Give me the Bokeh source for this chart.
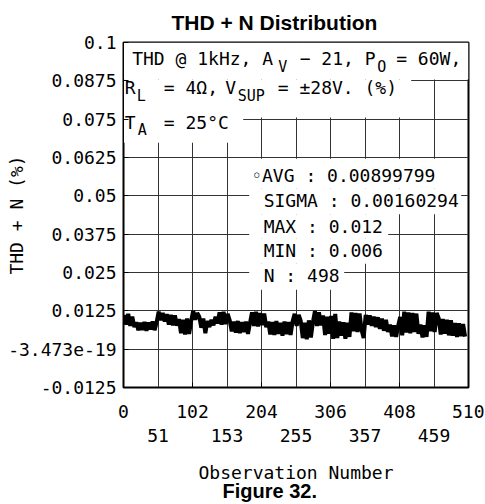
import math
from bokeh.plotting import figure
from bokeh.models import Range1d, FixedTicker, LinearAxis, Label, BoxAnnotation, Title
from bokeh.embed import file_html
from bokeh.resources import INLINE

# ---------------- data ----------------
x_grid_ticks = [0, 51, 102, 153, 204, 255, 306, 357, 408, 459, 510]
x_row1_ticks = [0, 102, 204, 306, 408, 510]
x_row2_ticks = [51, 153, 255, 357, 459]
y_ticks = [-0.0125, 0.0, 0.0125, 0.025, 0.0375, 0.05, 0.0625, 0.075, 0.0875, 0.1]
y_tick_labels = ["-0.0125", "-3.473e-19", "0.0125", "0.025", "0.0375",
                 "0.05", "0.0625", "0.075", "0.0875", "0.1"]

# THD+N (%), one value every 3rd observation
thd = [
    0.0112, 0.0080, 0.0115, 0.0076, 0.0106, 0.0072,
    0.0088, 0.0062, 0.0086, 0.0063, 0.0089, 0.0060, 0.0087, 0.0064, 0.0090, 0.0062, 0.0088,
    0.0122, 0.0094, 0.0118, 0.0090,
    0.0114, 0.0080, 0.0112, 0.0078, 0.0110, 0.0077,
    0.0098, 0.0052, 0.0096, 0.0048, 0.0100, 0.0050, 0.0092,
    0.0125, 0.0096, 0.0118,
    0.0106, 0.0070, 0.0100, 0.0052, 0.0092,
    0.0072, 0.0096, 0.0078, 0.0106, 0.0084,
    0.0120, 0.0080, 0.0122, 0.0082, 0.0115,
    0.0094, 0.0058, 0.0090, 0.0054, 0.0092, 0.0052, 0.0088,
    0.0056, 0.0090, 0.0050, 0.0086,
    0.0120, 0.0076, 0.0122, 0.0074, 0.0118, 0.0078, 0.0116, 0.0072,
    0.0090, 0.0048, 0.0088, 0.0046, 0.0092, 0.0050, 0.0086, 0.0044, 0.0090, 0.0049, 0.0088, 0.0046, 0.0091,
    0.0115, 0.0076, 0.0112,
    0.0092, 0.0036, 0.0086, 0.0032, 0.0094, 0.0038, 0.0088,
    0.0124, 0.0076, 0.0120, 0.0078,
    0.0110, 0.0046, 0.0106, 0.0050, 0.0108,
    0.0034, 0.0115, 0.0036,
    0.0090, 0.0044, 0.0088, 0.0034, 0.0086, 0.0040,
    0.0120, 0.0058, 0.0118, 0.0056, 0.0116, 0.0062, 0.0036,
    0.0112, 0.0080, 0.0110, 0.0076, 0.0106, 0.0072, 0.0104, 0.0066, 0.0100, 0.0060, 0.0096,
    0.0056, 0.0080, 0.0042, 0.0078, 0.0040, 0.0076,
    0.0105, 0.0045,
    0.0122, 0.0054, 0.0120, 0.0052, 0.0118, 0.0056, 0.0116, 0.0050,
    0.0080, 0.0038, 0.0078, 0.0040,
    0.0122, 0.0058, 0.0120, 0.0056, 0.0118,
    0.0100, 0.0048, 0.0098, 0.0050, 0.0096, 0.0045, 0.0094,
    0.0044, 0.0085, 0.0040, 0.0084, 0.0042, 0.0082, 0.0041,
]
obs = list(range(1, 3 * len(thd) + 1, 3))

title_text = "THD + N Distribution"
x_title = "Observation Number"
y_title = "THD + N (%)"
caption = "Figure 32."
stats_lines = ["\u25e6AVG : 0.00899799", "SIGMA : 0.00160294", "MAX : 0.012",
               "MIN : 0.006", "N : 498"]

# ---------------- styling ----------------
MONO = "DejaVu Sans Mono"
SANS = "Liberation Sans"
MAIN_FS = "18px"
SUB_FS = "15px"

p = figure(width=484, height=502, x_range=Range1d(0, 510), y_range=Range1d(-0.0125, 0.1),
           output_backend="svg", toolbar_location=None,
           min_border_left=123, min_border_right=16, min_border_top=42, min_border_bottom=115)
p.background_fill_color = "white"
p.border_fill_color = "white"
p.outline_line_color = "black"
p.outline_line_width = 2

p.title.text = title_text
p.title.text_font = SANS
p.title.text_font_style = "bold"
p.title.text_font_size = "21px"
p.title.text_color = "black"
p.title.align = "left"
p.title.offset = 48
p.title.standoff = 17

# grids
p.xgrid.ticker = FixedTicker(ticks=x_grid_ticks)
p.ygrid.ticker = FixedTicker(ticks=y_ticks)
for g in (p.xgrid, p.ygrid):
    g.grid_line_color = "#333333"
    g.grid_line_width = 1
    g.grid_line_alpha = 1.0

# axes
xa = p.xaxis[0]
xa.ticker = FixedTicker(ticks=x_row1_ticks)
ya = p.yaxis[0]
ya.ticker = FixedTicker(ticks=y_ticks)
ya.major_label_overrides = {v: s for v, s in zip(y_ticks, y_tick_labels)}
xa2 = LinearAxis(ticker=FixedTicker(ticks=x_row2_ticks))
p.add_layout(xa2, "below")
for ax in (xa, ya, xa2):
    ax.major_label_text_font = MONO
    ax.major_label_text_font_size = MAIN_FS
    ax.major_label_text_color = "black"
    ax.axis_label_text_font = MONO
    ax.axis_label_text_font_size = MAIN_FS
    ax.axis_label_text_font_style = "normal"
    ax.axis_label_text_color = "black"
    ax.major_tick_in = 5
    ax.major_tick_out = 0
    ax.minor_tick_line_color = None
    ax.major_tick_line_color = "black"
    ax.axis_line_color = "black"
xa.major_label_standoff = 17
ya.major_label_standoff = 7
ya.axis_label = y_title
ya.axis_label_standoff = -22
xa2.axis_line_color = None
xa2.major_tick_line_color = None
xa2.major_label_standoff = 8
xa2.axis_label = x_title
xa2.axis_label_standoff = 17

cap = Title(text=caption, text_font=SANS, text_font_style="bold", text_font_size="20px",
            text_color="black", align="left", offset=99, standoff=-12, vertical_align="top")
p.add_layout(cap, "below")

# helpers: pixel position in the reference picture -> data position
def X(px):
    return (px - 123.3) * 510 / 345.0

def Y(py):
    return 0.1 - (py - 42.0) * 0.1125 / 344.5

# white backgrounds behind the annotation texts
boxes = [
    (123.3, 468.3, 42, 79), (123.3, 411, 79, 116.8), (123.3, 243, 100, 142),
    (249, 446, 158, 188), (249, 461, 188, 213.5), (249, 388, 213.5, 238),
    (249, 377, 238, 263), (249, 344, 263, 289),
]
for l, r, t, b in boxes:
    p.add_layout(BoxAnnotation(left=X(l), right=X(r), top=Y(t), bottom=Y(b),
                               fill_color="white", fill_alpha=1.0, line_color=None,
                               level="glyph"))

# data line
p.line(obs, thd, line_color="black", line_width=4)

def lab(text, px, py, size=MAIN_FS):
    p.add_layout(Label(x=X(px), y=Y(py), text=text, text_font=MONO, text_font_size=size,
                       text_align="left", text_baseline="middle", text_color="black"))

# conditions box
lab("THD @ 1kHz, A", 132, 58)
lab("V", 278, 66, SUB_FS)
lab("\u2212 21, P", 299.5, 58)
lab("O", 377, 66, SUB_FS)
lab("= 60W,", 396, 58)
lab("R", 124.5, 86.5)
lab("L", 136.5, 95, SUB_FS)
lab("= 4\u03a9,", 163.6, 86.5)
lab("V", 225, 86.5)
lab("SUP", 237.5, 95, SUB_FS)
lab("= \u00b128V. (%)", 277.6, 86.5)
lab("T", 124.5, 121.5)
lab("A", 137.5, 129, SUB_FS)
lab("= 25\u00b0C", 163.6, 121.5)

# statistics
stat_pos = [(251, 175), (263.5, 200), (263.5, 225.5), (263.5, 250), (263.5, 275)]
for s, (px, py) in zip(stats_lines, stat_pos):
    lab(s, px, py)

open("out.html", "w").write(file_html(p, INLINE))
